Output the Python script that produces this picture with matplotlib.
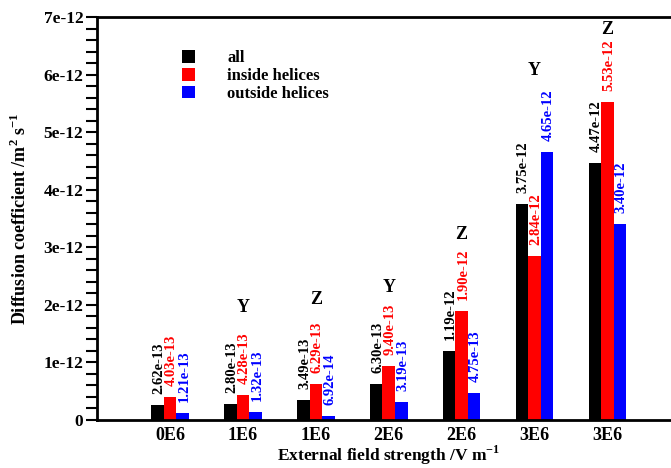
import numpy as np
import matplotlib
matplotlib.use("Agg")
import matplotlib.pyplot as plt
from matplotlib.patches import Patch

plt.rcParams['font.family'] = ['Liberation Serif', 'DejaVu Serif']
plt.rcParams['font.weight'] = 'bold'
plt.rcParams['mathtext.fontset'] = 'custom'
plt.rcParams['mathtext.rm'] = 'Liberation Serif:bold'
plt.rcParams['mathtext.bf'] = 'Liberation Serif:bold'

# datos
campos = ['0E6', '1E6', '1E6', '2E6', '2E6', '3E6', '3E6']
d_all = [2.62e-13, 2.80e-13, 3.49e-13, 6.30e-13, 1.19e-12, 3.75e-12, 4.47e-12]
d_inside = [4.03e-13, 4.28e-13, 6.29e-13, 9.40e-13, 1.90e-12, 2.84e-12, 5.53e-12]
d_outside = [1.21e-13, 1.32e-13, 6.92e-14, 3.19e-13, 4.75e-13, 4.65e-12, 3.40e-12]
series_names = ['all', 'inside helices', 'outside helices']
colores = ['#000000', '#ff0000', '#0000ff']

# etiquetas de eje (Y / Z) sobre algunos grupos
eje_grupo = [2, 3, 4, 5, 6, 7]
eje_texto = ['Y', 'Z', 'Y', 'Z', 'Y', 'Z']
eje_altura = [1.96e-12, 2.10e-12, 2.30e-12, 3.22e-12, 6.07e-12, 6.78e-12]

yticks = [0, 1e-12, 2e-12, 3e-12, 4e-12, 5e-12, 6e-12, 7e-12]
ytick_labels = ['0', '1e-12', '2e-12', '3e-12', '4e-12', '5e-12', '6e-12', '7e-12']

fig = plt.figure(figsize=(6.71, 4.68), dpi=100)
ax = fig.add_axes([97.2 / 671, 48 / 468, 583 / 671, 403 / 468])

x = np.arange(1, len(campos) + 1)
ancho = 0.172
for i, (datos, col) in enumerate(zip([d_all, d_inside, d_outside], colores)):
    pos = x + (i - 1) * ancho
    ax.bar(pos, datos, width=ancho, color=col, edgecolor='none')
    for xp, v in zip(pos, datos):
        ax.annotate(f"{v:.2e}", xy=(xp, v), xytext=(1, 8), textcoords='offset points',
                    rotation=90, ha='center', va='bottom', color=col,
                    fontsize=10.5, fontweight='bold')

for g, t, h in zip(eje_grupo, eje_texto, eje_altura):
    ax.text(g, h, t, ha='center', va='center', fontsize=13, fontweight='bold')

ax.set_xlim(0, 8)
ax.set_ylim(0, 7e-12)
ax.set_xticks(x)
ax.set_xticklabels(campos, fontsize=13, fontweight='bold')
ax.set_yticks(yticks)
ax.set_yticklabels(ytick_labels, fontsize=12.5, fontweight='bold')
ax.set_yticks(np.arange(0, 7.01e-12, 0.2e-12), minor=True)
ax.tick_params(axis='x', length=0, pad=5)
ax.tick_params(axis='y', which='both', direction='out', length=8, width=1.5, pad=2)

for s in ['left', 'bottom', 'top']:
    ax.spines[s].set_linewidth(2)
ax.spines['right'].set_visible(False)

ax.set_xlabel('External field strength /V m$^{-1}$', fontsize=12.5, fontweight='bold', labelpad=0)
ax.set_ylabel('Diffusion coefficient /m$^{2}$ s$^{-1}$', fontsize=13, fontweight='bold', labelpad=10)

handles = [Patch(facecolor=c, edgecolor='none') for c in colores]
fig.legend(handles, series_names, loc='upper left', bbox_to_anchor=(182 / 671, 1 - 50 / 468),
           frameon=False, handlelength=0.8, handleheight=0.8,
           handletextpad=1.9, labelspacing=0.1, borderpad=0, borderaxespad=0,
           prop={'weight': 'bold', 'size': 12})

fig.savefig('out.png', dpi=100)
